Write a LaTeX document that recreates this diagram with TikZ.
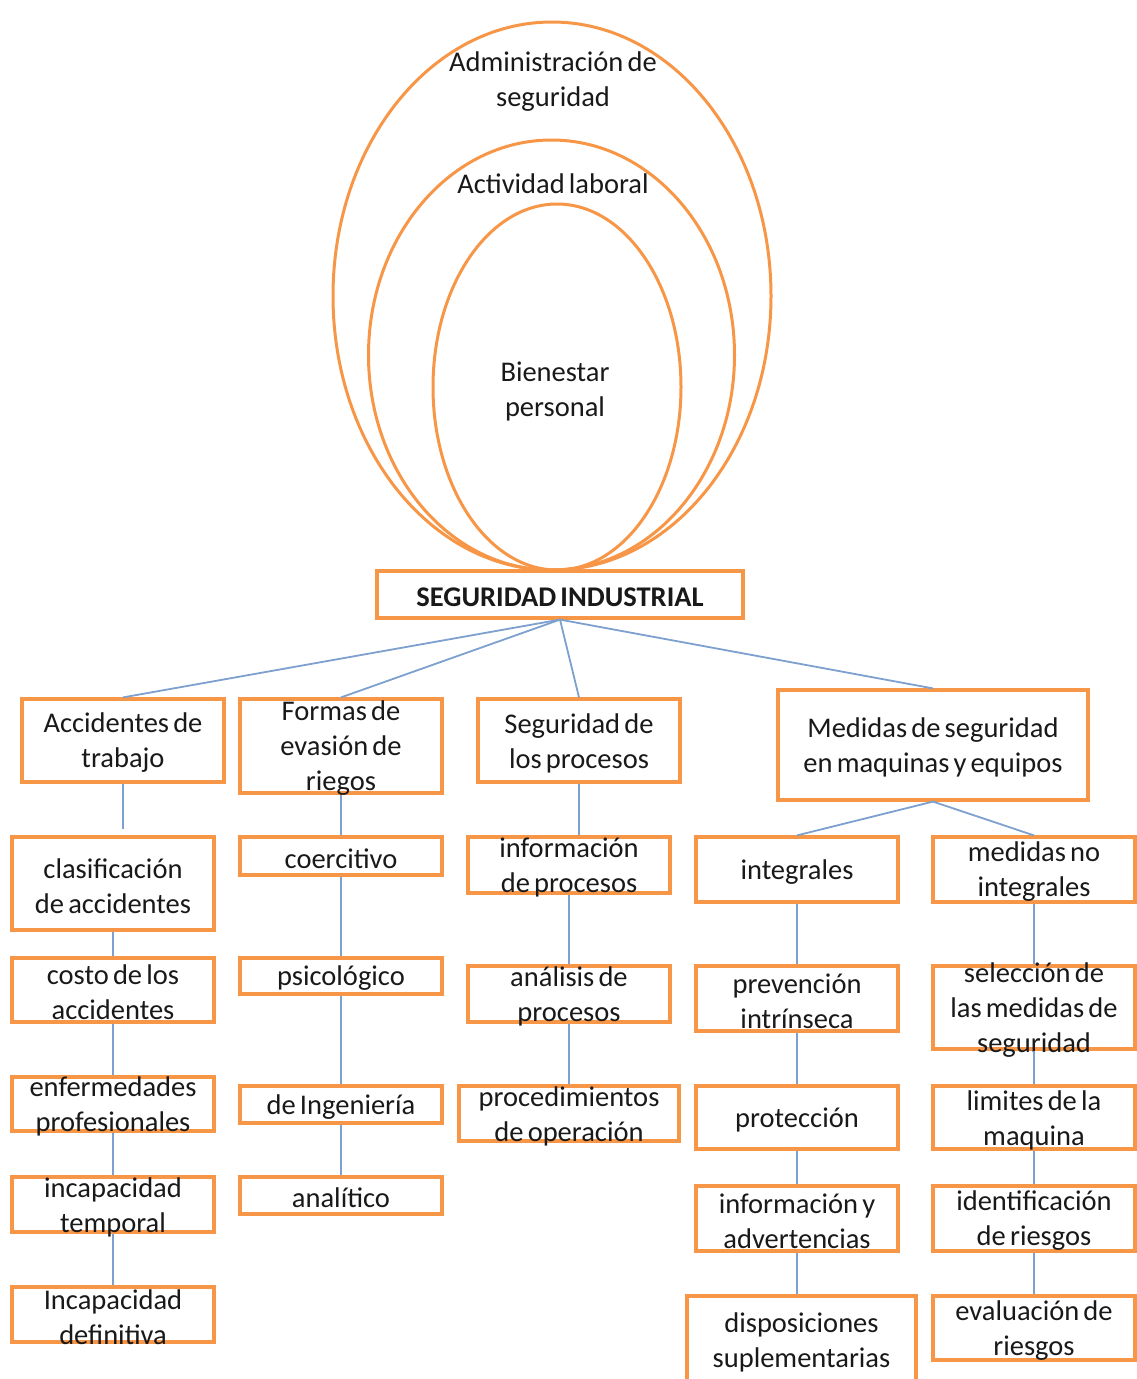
\documentclass[tikz,border=0pt]{standalone}
\usepackage{fontspec}
\setmainfont{Carlito}[WordSpace=0.65]
\definecolor{orng}{RGB}{247,150,70}
\definecolor{lnblue}{RGB}{125,160,206}
\definecolor{txtc}{RGB}{25,25,25}
\begin{document}
\begin{tikzpicture}[x=1pt,y=-1pt,
  box/.style={draw=orng, line width=3.2pt, fill=white, inner sep=0pt, minimum width=202pt},
  txt/.style={align=center, text=txtc, font=\fontsize{28.5}{35}\selectfont, inner sep=0pt, yshift=-2.5pt},
  ring/.style={draw=orng, line width=3pt},
  conn/.style={draw=lnblue, line width=1.8pt}]
\useasboundingbox (0,0) rectangle (1137,1379);

% nested ellipses
\draw[ring] (552,296) ellipse (219 and 274);
\draw[ring] (551.5,355) ellipse (183 and 215);
\draw[ring] (557,387) ellipse (124 and 183);
\node[txt] (adm) at (553,79.5) {Administración de\\seguridad};
\node[txt] (act) at (553,181) {Actividad laboral};
\node[txt] (bien) at (555,388.5) {Bienestar\\personal};

\coordinate (accend) at (123,829);

% boxes
\node[box, minimum width=366pt, minimum height=47pt,
  label={[txt,font=\fontsize{28.5}{35}\selectfont\bfseries]center:SEGURIDAD INDUSTRIAL}] (seg) at (560,594.5) {};

\node[box, minimum height=83pt, label={[txt]center:{Accidentes de\\trabajo}}] (acc) at (123,740.5) {};
\node[box, minimum height=94pt, label={[txt]center:{Formas de\\evasión de\\riegos}}] (formas) at (341,746) {};
\node[box, minimum height=83pt, label={[txt]center:{Seguridad de\\los procesos}}] (segp) at (579,740.5) {};
\node[box, minimum width=310pt, minimum height=110pt, label={[txt]center:{Medidas de seguridad\\en maquinas y equipos}}] (med) at (933,745) {};

\node[box, minimum height=93pt, label={[txt]center:{clasificación\\de accidentes}}] (clas) at (113,883.5) {};
\node[box, minimum height=64pt, label={[txt]center:{costo de los\\accidentes}}] (costo) at (113,990) {};
\node[box, minimum height=54pt, label={[txt]center:{enfermedades\\profesionales}}] (enf) at (113,1104) {};
\node[box, minimum height=55pt, label={[txt]center:{incapacidad\\temporal}}] (inct) at (113,1204.5) {};
\node[box, minimum height=55pt, label={[txt]center:{Incapacidad\\definitiva}}] (incd) at (113,1314.5) {};

\node[box, minimum height=38pt, label={[txt]center:{coercitivo}}] (coer) at (341,856) {};
\node[box, minimum height=36pt, label={[txt]center:{psicológico}}] (psi) at (341,976) {};
\node[box, minimum height=37pt, label={[txt]center:{de Ingeniería}}] (ing) at (341,1104.5) {};
\node[box, minimum height=37pt, label={[txt]center:{analítico}}] (anal) at (341,1195.5) {};

\node[box, minimum height=56pt, label={[txt]center:{información\\de procesos}}] (info) at (569,865) {};
\node[box, minimum height=56pt, label={[txt]center:{análisis de\\procesos}}] (anap) at (569,994) {};
\node[box, minimum width=220pt, minimum height=55pt, label={[txt]center:{procedimientos\\de operación}}] (proc) at (569,1113.5) {};

\node[box, minimum height=65pt, label={[txt]center:{integrales}}] (integ) at (797,869.5) {};
\node[box, minimum height=65pt, label={[txt]center:{prevención\\intrínseca}}] (prev) at (797,998.5) {};
\node[box, minimum height=63pt, label={[txt]center:{protección}}] (prot) at (797,1117.5) {};
\node[box, minimum height=65pt, label={[txt]center:{información y\\advertencias}}] (infoy) at (797,1218.5) {};
\node[box, minimum width=229pt, minimum height=88pt, label={[txt]center:{disposiciones\\suplementarias}}] (disp) at (801.5,1340) {};

\node[box, minimum height=65pt, label={[txt]center:{medidas no\\integrales}}] (medno) at (1034,869.5) {};
\node[box, minimum height=83pt, label={[txt]center:{selección de\\las medidas de\\seguridad}}] (sel) at (1034,1007.5) {};
\node[box, minimum height=63pt, label={[txt]center:{limites de la\\maquina}}] (lim) at (1034,1117.5) {};
\node[box, minimum height=65pt, label={[txt]center:{identificación\\de riesgos}}] (ident) at (1034,1218.5) {};
\node[box, minimum height=64pt, label={[txt]center:{evaluación de\\riesgos}}] (eval) at (1034,1328) {};

% connectors
\draw[conn] (seg.south) -- (acc.north);
\draw[conn] (seg.south) -- (formas.north);
\draw[conn] (seg.south) -- (segp.north);
\draw[conn] (seg.south) -- (med.north);

\draw[conn] (acc.south) -- (accend);
\draw[conn] (clas.south) -- (costo.north);
\draw[conn] (costo.south) -- (enf.north);
\draw[conn] (enf.south) -- (inct.north);
\draw[conn] (inct.south) -- (incd.north);

\draw[conn] (formas.south) -- (coer.north);
\draw[conn] (coer.south) -- (psi.north);
\draw[conn] (psi.south) -- (ing.north);
\draw[conn] (ing.south) -- (anal.north);

\draw[conn] (segp.south) -- (segp.south |- info.north);
\draw[conn] (info.south) -- (anap.north);
\draw[conn] (anap.south) -- (proc.north);

\draw[conn] (med.south) -- (integ.north);
\draw[conn] (med.south) -- (medno.north);

\draw[conn] (integ.south) -- (prev.north);
\draw[conn] (prev.south) -- (prot.north);
\draw[conn] (prot.south) -- (infoy.north);
\draw[conn] (infoy.south) -- (infoy.south |- disp.north);

\draw[conn] (medno.south) -- (sel.north);
\draw[conn] (sel.south) -- (lim.north);
\draw[conn] (lim.south) -- (ident.north);
\draw[conn] (ident.south) -- (eval.north);
\end{tikzpicture}
\end{document}
